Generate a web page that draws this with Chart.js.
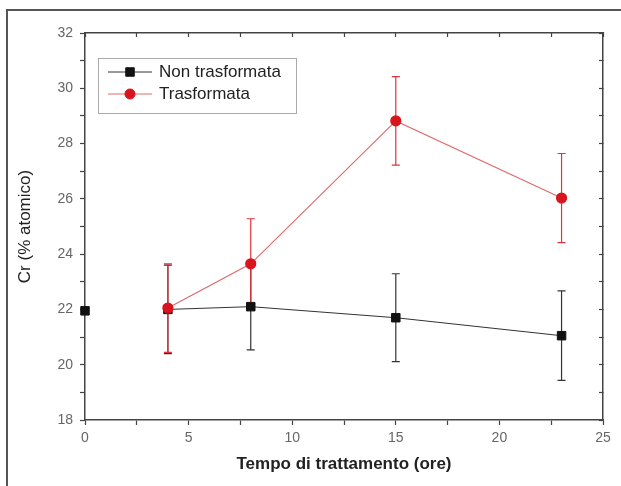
<!DOCTYPE html>
<html>
<head>
<meta charset="utf-8">
<script src="https://cdn.jsdelivr.net/npm/chart.js@4.4.1/dist/chart.umd.min.js"></script>
<style>
  html, body { margin: 0; padding: 0; background: #fff; }
  #wrap { width: 621px; height: 486px; }
</style>
</head>
<body>
<div id="wrap"><canvas id="c" width="621" height="486"></canvas></div>
<script>
// values
const hours = [4, 8, 15, 23];
const nonTrasf = [22.0, 22.1, 21.7, 21.05];
const nonTrasfErr = [1.6, 1.56, 1.59, 1.62];
const trasf = [22.05, 23.65, 28.82, 26.03];
const trasfErr = [1.6, 1.63, 1.6, 1.61];
const startHour = [0];
const startVal = [21.95];
const xTicks = [0, 5, 10, 15, 20, 25];
const yTicks = [18, 20, 22, 24, 26, 28, 30, 32];

const BLACK = '#111';
const RED = '#d8141c';
const FONT = "'Liberation Sans', Arial, sans-serif";

const pts = (xs, ys) => xs.map((x, i) => ({ x, y: ys[i] }));

const paper = {
  id: 'paper',
  beforeDraw(chart) {
    const ctx = chart.ctx;
    ctx.save();
    ctx.fillStyle = '#fff';
    ctx.fillRect(0, 0, chart.width, chart.height);
    ctx.strokeStyle = '#555';
    ctx.lineWidth = 2;
    ctx.beginPath();
    ctx.moveTo(7, chart.height);
    ctx.lineTo(7, 10);
    ctx.lineTo(chart.width, 10);
    ctx.stroke();
    ctx.restore();
  }
};

const errorBars = {
  id: 'errorBars',
  beforeDatasetsDraw(chart) {
    const { ctx, scales: { x, y } } = chart;
    chart.data.datasets.forEach(ds => {
      if (!ds.err) return;
      ctx.save();
      ctx.strokeStyle = ds.errColor;
      ctx.lineWidth = 1.2;
      ds.data.forEach((p, j) => {
        const px = x.getPixelForValue(p.x);
        const top = y.getPixelForValue(p.y + ds.err[j]);
        const bot = y.getPixelForValue(p.y - ds.err[j]);
        ctx.beginPath();
        ctx.moveTo(px, top); ctx.lineTo(px, bot);
        ctx.moveTo(px - 4, top); ctx.lineTo(px + 4, top);
        ctx.moveTo(px - 4, bot); ctx.lineTo(px + 4, bot);
        ctx.stroke();
      });
      ctx.restore();
    });
  }
};

const boxLegend = {
  id: 'boxLegend',
  afterDraw(chart) {
    const ctx = chart.ctx;
    ctx.save();
    ctx.strokeStyle = '#aaa';
    ctx.lineWidth = 1;
    ctx.strokeRect(98.5, 58.5, 198, 55);
    chart.data.datasets.filter(ds => ds.inLegend).forEach((ds, i) => {
      const yy = 72 + i * 22;
      ctx.strokeStyle = ds.borderColor;
      ctx.lineWidth = 1;
      ctx.beginPath();
      ctx.moveTo(108, yy); ctx.lineTo(152, yy);
      ctx.stroke();
      ctx.fillStyle = ds.pointBackgroundColor;
      ctx.strokeStyle = ds.pointBorderColor;
      Chart.helpers.drawPoint(ctx, { pointStyle: ds.pointStyle, radius: ds.pointRadius, rotation: 0, borderWidth: 1 }, 130, yy);
      ctx.fillStyle = '#222';
      ctx.font = '17px ' + FONT;
      ctx.textBaseline = 'middle';
      ctx.fillText(ds.label, 159, yy);
    });
    ctx.restore();
  }
};

const grid = { drawOnChartArea: false, tickLength: 5, tickColor: '#444', tickWidth: 1.2 };
const border = { color: '#444', width: 1.5 };
const tickFont = { family: FONT, size: 14 };

new Chart(document.getElementById('c'), {
  type: 'line',
  data: {
    datasets: [
      {
        label: 'Non trasformata', inLegend: true,
        data: pts(hours, nonTrasf), err: nonTrasfErr, errColor: '#333',
        borderColor: '#333', borderWidth: 1,
        pointStyle: 'rect', pointRadius: 6,
        pointBackgroundColor: BLACK, pointBorderColor: BLACK,
        order: 2, clip: false
      },
      {
        label: 'Trasformata', inLegend: true,
        data: pts(hours, trasf), err: trasfErr, errColor: '#e0323a',
        borderColor: '#e06a6a', borderWidth: 1.2,
        pointStyle: 'circle', pointRadius: 5,
        pointBackgroundColor: RED, pointBorderColor: RED,
        order: 1, clip: false
      },
      {
        label: 'start', inLegend: false,
        data: pts(startHour, startVal), showLine: false,
        pointStyle: 'rect', pointRadius: 6,
        pointBackgroundColor: BLACK, pointBorderColor: BLACK,
        order: 3, clip: false
      }
    ]
  },
  options: {
    responsive: false, animation: false, devicePixelRatio: 1,
    layout: { padding: 0 },
    plugins: { legend: { display: false }, tooltip: { enabled: false } },
    scales: {
      x: {
        type: 'linear', position: 'bottom', min: 0, max: 25,
        grid, border,
        ticks: { stepSize: 2.5, padding: 5, color: '#666', font: tickFont, maxRotation: 0,
          callback: v => xTicks.includes(v) ? v : '' },
        title: { display: true, text: 'Tempo di trattamento (ore)', color: '#222',
          font: { family: FONT, size: 17, weight: 'bold' }, padding: { bottom: 11 } },
        afterFit: s => { s.height = 66; }
      },
      x2: {
        type: 'linear', position: 'top', min: 0, max: 25,
        grid: { ...grid, tickLength: -4 }, border,
        ticks: { stepSize: 2.5, display: false },
        afterFit: s => { s.height = 33; }
      },
      y: {
        type: 'linear', position: 'left', min: 18, max: 32,
        grid, border,
        ticks: { stepSize: 1, padding: 7, color: '#666', font: tickFont,
          callback: v => yTicks.includes(v) ? v : '' },
        title: { display: true, text: 'Cr (% atomico)', color: '#222',
          font: { family: FONT, size: 17 }, padding: { top: 15 } },
        afterFit: s => { s.width = 85; }
      },
      y2: {
        type: 'linear', position: 'right', min: 18, max: 32,
        grid: { ...grid, tickLength: -4 }, border,
        ticks: { stepSize: 1, display: false },
        afterFit: s => { s.width = 18; }
      }
    }
  },
  plugins: [paper, errorBars, boxLegend]
});
</script>
</body>
</html>
